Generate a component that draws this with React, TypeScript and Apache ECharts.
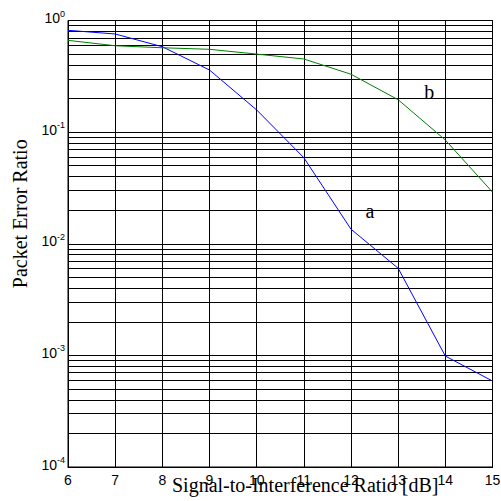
import React, { useEffect, useRef } from "react";
import * as echarts from "echarts";

const X_VALUES = [6, 7, 8, 9, 10, 11, 12, 13, 14, 15];
const SERIES_A = [0.817, 0.757, 0.582, 0.36, 0.158, 0.059, 0.0135, 0.00603, 0.000986, 0.000589];
const SERIES_B = [0.664, 0.594, 0.57, 0.552, 0.5, 0.452, 0.33, 0.195, 0.085, 0.029];
const DECADES = [1e-4, 1e-3, 1e-2, 1e-1];
const MINOR_MULTIPLIERS = [2, 3, 4, 5, 6, 7, 8, 9];
const LABEL_A = { text: "a", x: 12.4, y: 0.0196 };
const LABEL_B = { text: "b", x: 13.66, y: 0.2275 };

const SERIF = "'Liberation Serif', 'Times New Roman', serif";
const SANS = "'Liberation Sans', Arial, sans-serif";

export default function App() {
  const ref = useRef<HTMLDivElement>(null);

  useEffect(() => {
    if (!ref.current) return;
    const chart = echarts.init(ref.current, undefined, { renderer: "svg" });

    const xMin = X_VALUES[0];
    const xMax = X_VALUES[X_VALUES.length - 1];
    const minorLines: any[] = [];
    DECADES.forEach((d) => {
      MINOR_MULTIPLIERS.forEach((m) => {
        const v = +(d * m).toPrecision(3);
        minorLines.push({ coords: [[xMin, v], [xMax, v]] });
      });
    });

    const option: any = {
      animation: false,
      backgroundColor: "#ffffff",
      grid: {
        left: 68,
        right: 8.5,
        top: 20.5,
        bottom: 34,
        show: true,
        borderColor: "#000",
        borderWidth: 1,
        backgroundColor: "transparent",
        containLabel: false,
        outerBoundsMode: "none",
      },
      xAxis: {
        type: "value",
        min: 6,
        max: 15,
        interval: 1,
        axisLine: { show: true, lineStyle: { color: "#000", width: 1 } },
        axisTick: { show: false },
        splitLine: { show: true, lineStyle: { color: "#000", width: 1 } },
        axisLabel: {
          color: "#000",
          fontSize: 14,
          fontFamily: SANS,
          margin: 6,
        },
        name: "Signal-to-Interference Ratio [dB]",
        nameLocation: "middle",
        nameGap: 8,
        nameMoveOverlap: false,
        nameTextStyle: {
          color: "#000",
          fontSize: 20,
          fontFamily: SERIF,
          padding: [0, 0, 0, 50],
        },
      },
      yAxis: {
        type: "log",
        logBase: 10,
        min: 1e-4,
        max: 1,
        axisLine: { show: true, lineStyle: { color: "#000", width: 1 } },
        axisTick: { show: false },
        splitLine: { show: true, lineStyle: { color: "#000", width: 1 } },
        axisLabel: {
          margin: 3,
          padding: [0, 0, 5, 0],
          formatter: (v: number) => {
            const e = Math.round(Math.log10(v));
            return `{b|10}{s|${e}}`;
          },
          rich: {
            b: { fontSize: 14, fontFamily: SANS, color: "#000", lineHeight: 18 },
            s: { fontSize: 9, fontFamily: SANS, color: "#000", lineHeight: 9, verticalAlign: "top" },
          },
        },
        name: "Packet Error Ratio",
        nameLocation: "middle",
        nameGap: 38,
        nameMoveOverlap: false,
        nameTextStyle: {
          color: "#000",
          fontSize: 20,
          fontFamily: SERIF,
          padding: [0, 0, 0, 60],
        },
      },
      series: [
        {
          type: "lines",
          name: "minor grid",
          coordinateSystem: "cartesian2d",
          silent: true,
          z: 1,
          lineStyle: { color: "#000", width: 1, opacity: 1, type: "solid" },
          data: minorLines,
        },
        {
          type: "line",
          name: "a",
          data: X_VALUES.map((x, i) => [x, SERIES_A[i]]),
          showSymbol: false,
          lineStyle: { color: "#0000ff", width: 1 },
          itemStyle: { color: "#0000ff" },
          z: 5,
          markPoint: {
            symbol: "circle",
            symbolSize: 0,
            label: {
              show: true,
              position: "inside",
              formatter: LABEL_A.text,
              fontSize: 20,
              fontFamily: SERIF,
              color: "#000",
            },
            data: [{ coord: [LABEL_A.x, LABEL_A.y] }],
          },
        },
        {
          type: "line",
          name: "b",
          data: X_VALUES.map((x, i) => [x, SERIES_B[i]]),
          showSymbol: false,
          lineStyle: { color: "#008000", width: 1 },
          itemStyle: { color: "#008000" },
          z: 5,
          markPoint: {
            symbol: "circle",
            symbolSize: 0,
            label: {
              show: true,
              position: "inside",
              formatter: LABEL_B.text,
              fontSize: 20,
              fontFamily: SERIF,
              color: "#000",
            },
            data: [{ coord: [LABEL_B.x, LABEL_B.y] }],
          },
        },
      ],
    };

    chart.setOption(option);
    return () => chart.dispose();
  }, []);

  return (
    <div
      ref={ref}
      style={{ position: "absolute", left: 0, top: 0, width: 501, height: 501, background: "#fff" }}
    />
  );
}
